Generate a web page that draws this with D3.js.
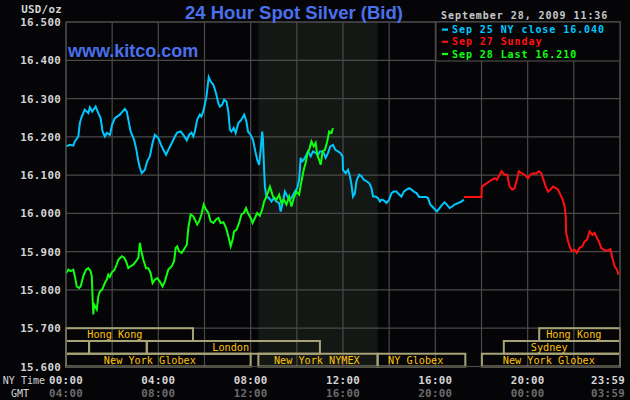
<!DOCTYPE html>
<html>
<head>
<meta charset="utf-8">
<script src="https://cdn.jsdelivr.net/npm/d3@7"></script>
<style>
  html, body { margin:0; padding:0; background:#050508; }
  svg { display:block; }
  .mono { font-family:"DejaVu Sans Mono", monospace; font-weight:bold; }
</style>
</head>
<body>
<svg id="chart" width="630" height="400"></svg>
<script>
// ── data (minutes after 00:00 NY time, USD/oz) ──
const sep25 = [
  [0,16.175],[10,16.179],[19,16.177],[23,16.188],[32,16.201],[36,16.236],[41,16.253],[49,16.271],
  [58,16.262],[62,16.277],[68,16.266],[77,16.279],[84,16.262],[90,16.249],[95,16.214],[101,16.201],
  [106,16.210],[114,16.205],[120,16.232],[127,16.249],[140,16.258],[153,16.273],[158,16.266],[162,16.245],
  [168,16.214],[177,16.192],[182,16.171],[188,16.136],[192,16.119],[197,16.105],[205,16.114],[211,16.136],
  [218,16.149],[225,16.184],[231,16.205],[240,16.197],[247,16.179],[253,16.166],[260,16.153],[266,16.166],
  [275,16.184],[283,16.201],[289,16.211],[298,16.214],[305,16.205],[314,16.191],[320,16.205],[326,16.211],
  [331,16.201],[335,16.214],[341,16.245],[348,16.258],[352,16.253],[358,16.271],[365,16.305],[371,16.356],
  [376,16.345],[383,16.336],[390,16.314],[396,16.288],[400,16.279],[406,16.284],[411,16.297],[417,16.292],
  [422,16.266],[426,16.219],[430,16.214],[436,16.223],[441,16.210],[448,16.236],[456,16.245],[463,16.258],
  [469,16.240],[473,16.214],[480,16.205],[486,16.192],[493,16.158],[497,16.140],[502,16.127],[506,16.166],
  [510,16.214],[512,16.192],[515,16.114],[517,16.070],[521,16.044],[528,16.040],[534,16.031],[540,16.040],
  [547,16.031],[554,16.027],[558,16.005],[563,16.027],[569,16.057],[573,16.049],[580,16.036],[586,16.040],
  [595,16.057],[601,16.066],[606,16.088],[610,16.145],[614,16.136],[618,16.140],[623,16.149],[629,16.162],
  [636,16.149],[642,16.162],[649,16.158],[655,16.153],[660,16.162],[668,16.162],[675,16.145],[681,16.158],
  [687,16.175],[694,16.179],[700,16.166],[707,16.162],[713,16.158],[719,16.149],[720,16.114],[727,16.105],
  [733,16.114],[738,16.097],[742,16.075],[746,16.044],[751,16.053],[755,16.084],[762,16.101],[768,16.097],
  [774,16.088],[781,16.084],[788,16.079],[794,16.066],[798,16.044],[805,16.044],[811,16.040],[816,16.031],
  [820,16.036],[826,16.034],[833,16.027],[840,16.036],[846,16.053],[852,16.057],[859,16.057],[866,16.049],
  [872,16.044],[878,16.057],[885,16.062],[892,16.066],[898,16.062],[904,16.057],[911,16.053],[918,16.043],
  [926,16.043],[935,16.043],[941,16.040],[947,16.023],[952,16.018],[958,16.011],[964,16.005],[971,16.014],
  [978,16.023],[984,16.029],[990,16.023],[997,16.014],[1004,16.018],[1010,16.023],[1019,16.027],[1028,16.031],
  [1034,16.036]
];
const sep27 = [
  [1034,16.043],[1080,16.043],[1081,16.070],[1088,16.075],[1094,16.079],[1101,16.084],[1108,16.088],[1114,16.092],
  [1120,16.088],[1125,16.097],[1132,16.110],[1140,16.101],[1147,16.101],[1153,16.070],[1160,16.062],[1166,16.066],
  [1172,16.088],[1177,16.110],[1184,16.105],[1192,16.101],[1201,16.092],[1207,16.101],[1214,16.105],[1222,16.104],
  [1229,16.110],[1235,16.105],[1241,16.088],[1247,16.070],[1253,16.057],[1259,16.062],[1266,16.070],[1273,16.066],
  [1279,16.062],[1285,16.049],[1291,16.036],[1296,16.018],[1299,15.992],[1300,15.949],[1305,15.927],[1309,15.914],
  [1315,15.901],[1322,15.905],[1328,15.897],[1335,15.910],[1342,15.914],[1348,15.927],[1354,15.931],[1361,15.953],
  [1368,15.944],[1374,15.949],[1380,15.936],[1385,15.927],[1391,15.910],[1400,15.903],[1408,15.903],[1415,15.907],
  [1420,15.884],[1426,15.862],[1432,15.853],[1436,15.840]
];
const sep28 = [
  [0,15.844],[6,15.853],[12,15.849],[19,15.853],[23,15.836],[28,15.809],[34,15.805],[38,15.809],
  [45,15.836],[52,15.853],[58,15.857],[64,15.849],[67,15.836],[69,15.783],[71,15.736],[73,15.762],
  [80,15.749],[84,15.783],[88,15.796],[94,15.801],[101,15.818],[106,15.827],[110,15.840],[114,15.834],
  [119,15.846],[125,15.851],[130,15.862],[136,15.879],[145,15.888],[151,15.884],[156,15.875],[162,15.857],
  [168,15.862],[175,15.866],[182,15.875],[188,15.884],[192,15.923],[195,15.905],[201,15.879],[208,15.857],
  [214,15.857],[220,15.844],[225,15.818],[231,15.827],[237,15.831],[244,15.822],[251,15.809],[257,15.822],
  [262,15.840],[266,15.853],[275,15.862],[281,15.875],[285,15.910],[289,15.914],[294,15.901],[301,15.897],
  [306,15.905],[314,15.918],[318,15.962],[324,15.997],[331,15.992],[335,15.984],[341,15.971],[346,15.979],
  [352,15.997],[358,16.023],[364,16.010],[370,16.001],[376,15.979],[383,15.975],[390,15.984],[396,15.988],
  [402,15.975],[409,15.977],[416,15.962],[422,15.940],[428,15.914],[433,15.931],[437,15.953],[443,15.957],
  [450,15.975],[456,15.997],[462,16.001],[468,16.014],[473,16.001],[480,15.988],[485,15.975],[491,15.988],
  [497,16.001],[504,15.994],[510,16.010],[515,16.031],[521,16.044],[530,16.070],[534,16.057],[538,16.044],
  [547,16.036],[554,16.049],[560,16.027],[566,16.036],[573,16.023],[580,16.044],[586,16.018],[592,16.040],
  [599,16.057],[606,16.049],[612,16.084],[618,16.114],[623,16.132],[628,16.158],[632,16.166],[638,16.188],
  [644,16.175],[649,16.184],[653,16.153],[658,16.140],[662,16.127],[667,16.162],[673,16.166],[679,16.188],
  [684,16.214],[690,16.210],[694,16.223]
];

const yTicks = [15.6, 15.7, 15.8, 15.9, 16.0, 16.1, 16.2, 16.3, 16.4, 16.5];
const xTickMin = [0, 240, 480, 720, 960, 1200, 1439];
const nyLabels = ["00:00", "04:00", "08:00", "12:00", "16:00", "20:00", "23:59"];
const gmtLabels = ["04:00", "08:00", "12:00", "16:00", "20:00", "00:00", "03:59"];
const comexHours = [500, 810]; // shaded NYMEX pit session

// market sessions: row, start/end minutes, label centre minute
const sessions = [
  {row:0, s:0,    e:330,  name:"Hong Kong",       mid:127},
  {row:0, s:1230, e:1440, name:"Hong Kong",       mid:1320},
  {row:1, s:0,    e:60,   name:"",                mid:30},
  {row:1, s:60,   e:210,  name:"",                mid:135},
  {row:1, s:210,  e:660,  name:"London",          mid:428},
  {row:1, s:1138, e:1440, name:"Sydney",          mid:1256},
  {row:2, s:0,    e:480,  name:"New York Globex", mid:218},
  {row:2, s:500,  e:810,  name:"New York NYMEX",  mid:652},
  {row:2, s:810,  e:1038, name:"NY Globex",       mid:909},
  {row:2, s:1081, e:1440, name:"New York Globex", mid:1255}
];

const legend = [
  {label:"Sep 25 NY close 16.040", color:"#00c8ff"},
  {label:"Sep 27 Sunday",          color:"#ff1010"},
  {label:"Sep 28 Last 16.210",     color:"#10ff10"}
];

// ── layout ──
const L = 66, R = 620, T = 22, B = 366.5;
const svg = d3.select('#chart');
const x = d3.scaleLinear().domain([0, 1440]).range([L, R]);
const y = d3.scaleLinear().domain([15.6, 16.5]).range([B, T]);
const GRID = '#4a4a4a';

// mono text helper: small glyphs with wide spacing, like the bitmap font
function mono(sel, size, spacing) {
  return sel.attr('class', 'mono').attr('font-size', size).attr('letter-spacing', spacing);
}

// shaded NYMEX band
svg.append('rect')
  .attr('x', x(comexHours[0])).attr('y', T)
  .attr('width', x(comexHours[1]) - x(comexHours[0])).attr('height', B - T)
  .attr('fill', '#141814');

// grid
const gGrid = svg.append('g').attr('stroke', GRID).attr('stroke-width', 1.2);
d3.range(0, 1441, 120).forEach(m => {
  gGrid.append('line').attr('x1', x(m)).attr('x2', x(m)).attr('y1', T).attr('y2', B);
});
yTicks.forEach(v => {
  gGrid.append('line').attr('x1', L).attr('x2', R).attr('y1', y(v)).attr('y2', y(v));
});

// y axis labels
svg.append('g').selectAll('text').data(yTicks).join('text')
  .call(mono, 10.8, 0.3)
  .attr('x', 61).attr('y', d => y(d) + 4)
  .attr('text-anchor', 'end')
  .attr('fill', '#d4d4d4')
  .text(d => d3.format('.3f')(d));

svg.append('text').call(mono, 10.8, 0.3)
  .attr('x', 62).attr('y', 13).attr('text-anchor', 'end')
  .attr('fill', '#d4d4d4').text('USD/oz');

// session boxes
const rowTop = y(15.7), rowH = (y(15.6) - y(15.7)) / 3;
const gS = svg.append('g');
sessions.forEach(s => {
  gS.append('rect')
    .attr('x', x(s.s)).attr('y', rowTop + s.row * rowH)
    .attr('width', x(s.e) - x(s.s)).attr('height', rowH)
    .attr('fill', 'none').attr('stroke', '#a8a478').attr('stroke-width', 2);
  if (s.name) {
    gS.append('text')
      .attr('x', x(s.mid)).attr('y', rowTop + s.row * rowH + rowH / 2 + 3.8)
      .attr('text-anchor', 'middle')
      .attr('font-family', '"DejaVu Sans Mono", monospace')
      .attr('font-size', 10.2)
      .attr('fill', '#ffc20a')
      .text(s.name);
  }
});

// price lines
const line = d3.line().x(d => x(d[0])).y(d => y(d[1]));
[[sep25, legend[0].color], [sep27, legend[1].color], [sep28, legend[2].color]].forEach(([d, c]) => {
  svg.append('path').datum(d)
    .attr('d', line)
    .attr('fill', 'none').attr('stroke', c)
    .attr('stroke-width', 2).attr('stroke-linejoin', 'miter');
});

// frame
svg.append('rect').attr('x', L).attr('y', T).attr('width', R - L).attr('height', B - T)
  .attr('fill', 'none').attr('stroke', GRID).attr('stroke-width', 1.2);

// x axis labels
svg.append('text').attr('x', 45).attr('y', 384)
  .attr('font-family', '"DejaVu Sans Mono", monospace').attr('font-size', 10)
  .attr('text-anchor', 'end').attr('fill', '#d4d4d4').text('NY Time');
svg.append('text').attr('x', 29).attr('y', 397)
  .attr('font-family', '"DejaVu Sans Mono", monospace').attr('font-size', 10)
  .attr('text-anchor', 'end').attr('fill', '#d4d4d4').text('GMT');
xTickMin.forEach((m, i) => {
  const last = i === xTickMin.length - 1;
  svg.append('text').call(mono, 10.8, 0.3)
    .attr('x', last ? 625 : x(m)).attr('y', 384)
    .attr('text-anchor', last ? 'end' : 'middle')
    .attr('fill', '#d4d4d4').text(nyLabels[i]);
  svg.append('text').call(mono, 10.8, 0.3)
    .attr('x', last ? 625 : x(m)).attr('y', 397)
    .attr('text-anchor', last ? 'end' : 'middle')
    .attr('fill', '#6c6c6c').text(gmtLabels[i]);
});

// titles
svg.append('text').attr('x', 294).attr('y', 19)
  .attr('text-anchor', 'middle')
  .attr('font-family', '"Liberation Sans", Arial, sans-serif')
  .attr('font-weight', 'bold').attr('font-size', 18.5)
  .attr('fill', '#4a70ec').text('24 Hour Spot Silver (Bid)');
svg.append('text').attr('x', 68).attr('y', 56.5)
  .attr('font-family', '"Liberation Sans", Arial, sans-serif')
  .attr('font-weight', 'bold').attr('font-size', 18)
  .attr('fill', '#4a70ec').text('www.kitco.com');

svg.append('text').call(mono, 10, 0.95).attr('x', 441).attr('y', 19)
  .attr('fill', '#c8c8c8').text('September 28, 2009 11:36');

// legend box
svg.append('rect').attr('x', 436).attr('y', T).attr('width', R - 436).attr('height', 39)
  .attr('fill', '#050508').attr('stroke', GRID).attr('stroke-width', 1.2);
legend.forEach((d, i) => {
  const cy = 29.5 + i * 12.2;
  svg.append('rect').attr('x', 442).attr('y', cy - 1).attr('width', 6).attr('height', 2.2).attr('fill', d.color);
  svg.append('text').call(mono, 10, 0.93).attr('x', 452).attr('y', cy + 3.6)
    .attr('fill', d.color).text(d.label);
});
</script>
</body>
</html>
